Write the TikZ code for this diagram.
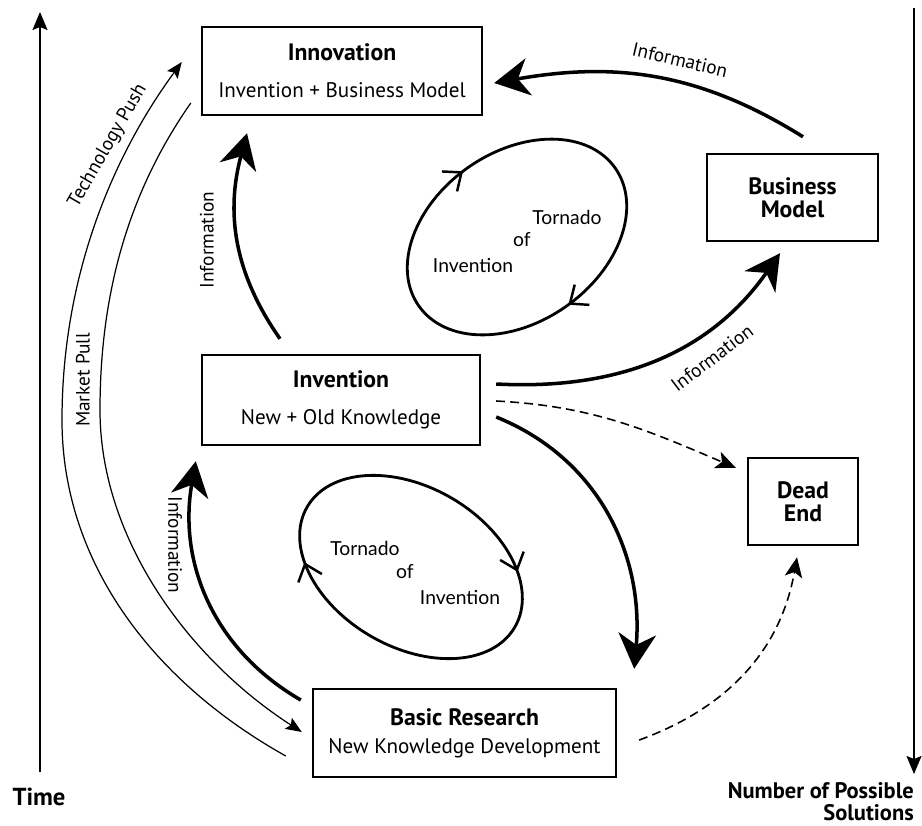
\documentclass[tikz,border=0pt]{standalone}
\usepackage{fontspec}
\setmainfont{PT Sans}
\newfontfamily\twisterfont{Lato}
\usetikzlibrary{arrows.meta,decorations.markings}

\newcommand{\boxtitle}[1]{{\bfseries\fontsize{13.5}{15}\selectfont #1}}

\begin{document}
\begin{tikzpicture}[x=0.02cm,y=0.02cm,
    box/.style={draw,line width=1.4pt,align=center,inner sep=0pt,font=\fontsize{12}{15}\selectfont},
    bigarrow/.style={line width=2pt,-{Stealth[length=0.7cm,width=0.75cm,inset=0.22cm]}},
    thinarrow/.style={line width=0.7pt,-{Stealth[length=0.32cm,width=0.26cm,inset=0.06cm]}},
    deadarrow/.style={line width=0.9pt,dash pattern=on 5pt off 3pt,-{Stealth[length=0.4cm,width=0.35cm,inset=0.1cm]}},
    axisarrow/.style={line width=0.9pt,-{Stealth[length=0.36cm,width=0.3cm,inset=0.06cm]}},
    info/.style={font=\fontsize{11}{13}\selectfont},
    twister/.style={line width=1.6pt,postaction={decorate}},
    twisterlabel/.style={font=\twisterfont\fontsize{11}{13}\selectfont},
  ]
    \useasboundingbox (0,0) rectangle (922,-825);

    \node[box,minimum width=5.6cm,minimum height=1.76cm] (innov) at (342,-71)
        {\boxtitle{Innovation}\\[6pt]Invention + Business Model};
    \node[box,minimum width=3.42cm,minimum height=1.74cm] (bm) at (792.5,-197.5)
        {\boxtitle{Business}\\[-2pt]\boxtitle{Model}};
    \node[box,minimum width=5.56cm,minimum height=1.8cm] (inv) at (341,-400)
        {\boxtitle{Invention}\\[6pt]New + Old Knowledge};
    \node[box,minimum width=2.2cm,minimum height=1.74cm] (dead) at (803,-501.5)
        {\boxtitle{Dead}\\[-2pt]\boxtitle{End}};
    \node[box,minimum width=6.06cm,minimum height=1.76cm] (basic) at (464.5,-733)
        {\boxtitle{Basic Research}\\[1pt]New Knowledge Development};

    \node[font=\bfseries\fontsize{14}{15}\selectfont] (time) at (39,-797) {Time};
    \node[font=\bfseries\fontsize{12.8}{12.5}\selectfont,align=right,anchor=north east] (nops) at (920,-776)
        {Number of Possible\\Solutions};
    \coordinate (tbot) at (40,-772);
    \coordinate (ttop) at (40,-12);
    \coordinate (ntop) at (914,-8);
    \coordinate (nbot) at (914,-774);
    \draw[axisarrow] (tbot) -- (ttop);
    \draw[axisarrow] (ntop) -- (nbot);

    \draw[thinarrow] ([shift={(-26,-23)}]basic.west) .. controls (150,-680) and (62,-560) .. (62,-420)
        .. controls (62,-280) and (110,-160) .. ([shift={(-19,9)}]innov.west);
    \draw[thinarrow] ([shift={(-10,-32)}]innov.west) .. controls (130,-190) and (100,-290) .. (100,-410)
        .. controls (100,-540) and (190,-660) .. ([shift={(-10,1)}]basic.west);
    \node[info,rotate=60] (push) at (108,-146) {Technology Push};
    \node[info,rotate=90] (pull) at (83,-380) {Market Pull};

    \draw[bigarrow] ([shift={(-61,15)}]inv.north) to[out=125,in=-105] ([shift={(-95,-17)}]innov.south);
    \draw[bigarrow] ([shift={(-11,33)}]basic.west) to[out=150,in=-100] ([shift={(-5,-15)}]inv.south west);
    \draw[bigarrow] ([shift={(15,16)}]inv.east) to[out=-3,in=-125] ([shift={(-12.5,-11)}]bm.south);
    \draw[bigarrow] ([shift={(10.5,16)}]bm.north) to[out=148,in=10] ([shift={(11,-12)}]innov.east);
    \draw[bigarrow] ([shift={(15,-17)}]inv.east) to[out=-22,in=85] ([shift={(17,19)}]basic.north east);
    \node[info,rotate=90] (info1) at (207,-240) {Information};
    \node[info,rotate=-90] (info2) at (175,-545) {Information};
    \node[info,rotate=37] (info3) at (712,-358) {Information};
    \node[info,rotate=-13] (info4) at (680,-60) {Information};

    \draw[deadarrow] ([shift={(15,-1)}]inv.east) to[out=-3,in=157] ([shift={(-11,-11)}]dead.north west);
    \draw[deadarrow] ([shift={(22,-7)}]basic.east) to[out=20,in=-100] ([shift={(-6,-11)}]dead.south);

    \draw[twister,rotate around={35:(517,-237)},
        decoration={markings,
          mark=at position 0.26 with {\arrowreversed[line width=1.4pt]{Straight Barb[length=0.3cm,width=0.5cm]}},
          mark=at position 0.755 with {\arrowreversed[line width=1.4pt]{Straight Barb[length=0.3cm,width=0.5cm]}}}]
        (517,-237) ellipse [x radius=2.4cm,y radius=1.7cm];
    \draw[twister,rotate around={-30:(411,-567)},
        decoration={markings,
          mark=at position 0.09 with {\arrowreversed[line width=1.4pt]{Straight Barb[length=0.3cm,width=0.5cm]}},
          mark=at position 0.59 with {\arrowreversed[line width=1.4pt]{Straight Barb[length=0.3cm,width=0.5cm]}}}]
        (411,-567) ellipse [x radius=2.4cm,y radius=1.6cm];
    \node[twisterlabel] (t1a) at (567,-217) {Tornado};
    \node[twisterlabel] (t1b) at (522,-240) {of};
    \node[twisterlabel] (t1c) at (473,-265) {Invention};
    \node[twisterlabel] (t2a) at (365,-548) {Tornado};
    \node[twisterlabel] (t2b) at (405,-572) {of};
    \node[twisterlabel] (t2c) at (460,-597) {Invention};
\end{tikzpicture}
\end{document}
